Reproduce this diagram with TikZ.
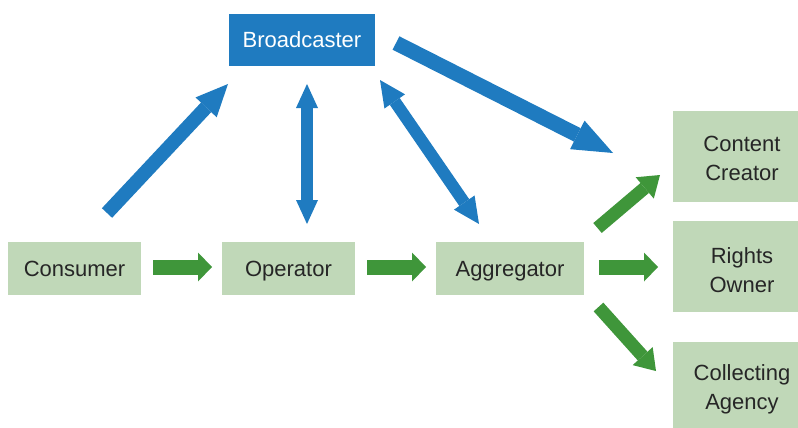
\documentclass[tikz,border=0pt]{standalone}
\usepackage{fontspec}
\setmainfont{Liberation Sans}
\usetikzlibrary{arrows.meta}
\definecolor{bcblue}{HTML}{1F7BC0}
\definecolor{boxgreen}{HTML}{C0D8B8}
\definecolor{arrgreen}{HTML}{3F963A}
\definecolor{ink}{HTML}{262626}
\begin{document}
\begin{tikzpicture}[x=1pt,y=-1pt,
  every node/.style={font=\fontsize{22}{28.5}\selectfont, inner sep=0pt},
  party/.style={rectangle, fill=boxgreen, text=ink, align=center,
    text height=16pt, text depth=1pt},
  twoline/.style={text height=#1, text depth=0pt},
  hub/.style={rectangle, fill=bcblue, text=white, text height=16.5pt, text depth=1pt},
  oneway/.style n args={4}{color=#1, line width=#2,
    -{Triangle[width=#3,length=#4,line width=0pt]}},
  twoway/.style n args={4}{color=#1, line width=#2,
    {Triangle[width=#3,length=#4,line width=0pt]}-{Triangle[width=#3,length=#4,line width=0pt]}}
]
\useasboundingbox (0,0) rectangle (798,428);
\clip (0,0) rectangle (798,428);

% parties
\node[hub, minimum width=146pt, minimum height=52pt] (broad) at (302,40) {Broadcaster};
\node[party, minimum width=133pt, minimum height=53pt] (cons) at (74.5,268.5) {Consumer};
\node[party, minimum width=133pt, minimum height=53pt] (oper) at (288.5,268.5) {Operator};
\node[party, minimum width=148pt, minimum height=53pt] (aggr) at (510,268.5) {Aggregator};
\node[party, twoline=47pt, minimum width=138pt, minimum height=91pt] (creator) at (742,156.5) {Content\\Creator};
\node[party, twoline=51pt, minimum width=138pt, minimum height=91pt] (rights) at (742,266.5) {Rights\\Owner};
\node[party, twoline=48pt, minimum width=138pt, minimum height=86pt] (agency) at (742,385) {Collecting\\Agency};

% arrow end points
\coordinate (cons-b) at (107,213);   \coordinate (broad-c) at (228,84);
\coordinate (oper-b) at (307,224);   \coordinate (broad-o) at (307,84);
\coordinate (aggr-b) at (479,224);   \coordinate (broad-a) at (380,80);
\coordinate (broad-r) at (396,43);   \coordinate (creator-b) at (613,153);
\coordinate (cons-o) at (153,267);   \coordinate (oper-c) at (212,267);
\coordinate (oper-a) at (367,267);   \coordinate (aggr-o) at (426,267);
\coordinate (aggr-r) at (599,267);   \coordinate (rights-a) at (658,267);
\coordinate (aggr-c) at (597.5,228); \coordinate (creator-a) at (660,175);
\coordinate (aggr-g) at (598.5,307); \coordinate (agency-a) at (656,371);

% broadcaster links
\draw[oneway={bcblue}{14pt}{29pt}{32pt}] (cons-b) -- (broad-c);
\draw[twoway={bcblue}{12pt}{22pt}{24pt}] (oper-b) -- (broad-o);
\draw[twoway={bcblue}{12pt}{25pt}{26pt}] (aggr-b) -- (broad-a);
\draw[oneway={bcblue}{15pt}{32pt}{40pt}] (broad-r) -- (creator-b);

% value chain
\draw[oneway={arrgreen}{15pt}{29pt}{14pt}] (cons-o) -- (oper-c);
\draw[oneway={arrgreen}{15pt}{29pt}{14pt}] (oper-a) -- (aggr-o);
\draw[oneway={arrgreen}{15pt}{29pt}{14pt}] (aggr-r) -- (rights-a);
\draw[oneway={arrgreen}{13pt}{28pt}{20pt}] (aggr-c) -- (creator-a);
\draw[oneway={arrgreen}{13pt}{27pt}{20pt}] (aggr-g) -- (agency-a);
\end{tikzpicture}
\end{document}
